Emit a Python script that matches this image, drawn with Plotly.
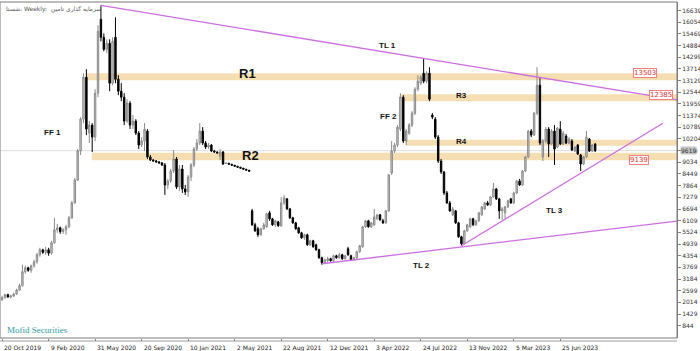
import plotly.graph_objects as go
import pandas as pd

# ---------------- data (weekly candles) ----------------
start_date = "2019-10-20"

opens = [
    2150, 2250, 2400, 2280, 2330, 2430, 2630, 2850, 3550, 3750,
    3620, 3850, 4050, 4400, 4650, 4520, 4650, 4480, 5000, 5650,
    5750, 5560, 5650, 5800, 6250, 7000, 8150, 9600, 11200, 13300,
    10500, 10900, 10300, 12500, 16200, 15300, 14700, 15000, 13000, 15300,
    13200, 12600, 12300, 11100, 12000, 10900, 11100, 10500, 9900, 10100,
    10600, 9300, 9150, 9100, 9050, 9000, 8900, 7900, 8100, 8600,
    9200, 7800, 8700, 7700, 7550, 8300, 8900, 9700, 10000, 10600,
    10000, 9800, 9900, 9600, 9550, 9350, 9550, 8990, 8990, 8940,
    8890, 8840, 8790, 8740, 8690, 8640, 6600, 5900, 5700, 5400,
    5700, 5800, 6500, 6200, 5900, 6050, 5850, 7000, 7200, 6700,
    6250, 6000, 5750, 5500, 5250, 5400, 4900, 5100, 4900, 4650,
    4250, 4000, 4100, 4200, 4100, 4350, 4250, 4400, 4200, 4700,
    4350, 4150, 4250, 4550, 4800, 5800, 6100, 5800, 5900, 6200,
    6400, 6100, 6000, 6600, 8500, 9600, 9900, 10700, 12300, 10100,
    10500, 10900, 11500, 12700, 13000, 13500, 13100, 13500, 11400, 11200,
    10300, 9100, 8550, 7500, 7000, 6400, 6600, 6000, 5300, 4950,
    5600, 5800, 6200, 5900, 6100, 6400, 6700, 7000, 6900, 7300,
    7700, 7200, 6600, 6500, 6800, 7200, 7000, 7500, 8100, 7900,
    8600, 9300, 10600, 10400, 11500, 12900, 9300, 10100, 10700, 9950,
    10600, 9800, 10700, 9950, 10350, 10000, 10100, 9600, 9900, 9400,
    8950, 9300, 10200, 9600, 9950,
]
highs = [
    2350, 2450, 2450, 2400, 2500, 2700, 2950, 3900, 3850, 3800,
    3900, 4150, 4500, 4750, 4700, 4800, 4750, 5100, 6250, 5950,
    5800, 5750, 5900, 6350, 7100, 8250, 9700, 11300, 13500, 13700,
    11100, 11000, 12700, 15900, 16900, 15500, 15200, 15200, 15300, 16300,
    13400, 13000, 12500, 12200, 12100, 11400, 11200, 10600, 10300, 11000,
    10700, 9400, 9200, 9150, 9100, 9050, 9000, 8200, 8700, 9650,
    9300, 8900, 8900, 7900, 8400, 9000, 9800, 10200, 11000, 10800,
    10100, 10000, 9950, 9650, 9580, 9700, 9600, 9010, 9000, 8950,
    8900, 8850, 8800, 8750, 8700, 8650, 6700, 6000, 5800, 5750,
    6000, 6500, 6600, 6250, 6150, 6100, 7300, 7400, 7250, 6750,
    6300, 6050, 5800, 5550, 5450, 5450, 5150, 5150, 4950, 4700,
    4300, 4200, 4300, 4250, 4400, 4400, 4500, 4450, 4400, 4800,
    4400, 4300, 4600, 4900, 5850, 6150, 6150, 6050, 6700, 6450,
    6450, 6200, 6650, 8450, 10100, 10000, 10900, 12500, 12400, 10700,
    11000, 11600, 12800, 13400, 13400, 14250, 13600, 13800, 11500, 11300,
    10400, 9200, 8600, 7600, 7100, 6800, 6650, 6050, 5350, 5650,
    5950, 6250, 6250, 6150, 6550, 6850, 7050, 7100, 7350, 8000,
    7750, 7250, 6800, 6850, 7150, 7250, 7550, 8150, 8200, 8650,
    9350, 10650, 10700, 11550, 13800, 13300, 10200, 10800, 10800, 10700,
    10900, 10800, 11100, 10600, 10450, 10300, 10200, 9850, 9950, 9450,
    9350, 10600, 10250, 9950, 10000,
]
lows = [
    2080, 2200, 2250, 2200, 2280, 2380, 2580, 2800, 3450, 3550,
    3500, 3750, 3950, 4300, 4450, 4400, 4350, 4400, 4950, 5500,
    5450, 5450, 5400, 5750, 6200, 6950, 8100, 9400, 11000, 10400,
    10000, 9550, 10100, 12300, 15100, 14600, 14500, 12600, 12900, 13000,
    12400, 12100, 10900, 11000, 10700, 10700, 10400, 9700, 9800, 9600,
    9200, 9100, 9080, 9030, 8980, 8850, 7400, 7700, 8000, 8500,
    7700, 7600, 7500, 7400, 7300, 8100, 8800, 9600, 9900, 9900,
    9700, 9700, 9550, 9520, 9480, 9150, 8900, 8970, 8930, 8880,
    8830, 8780, 8730, 8680, 8630, 8580, 5850, 5550, 5300, 5350,
    5650, 5750, 6100, 5850, 5800, 5800, 5800, 6900, 6650, 6200,
    5950, 5650, 5450, 5200, 5150, 4850, 4850, 4750, 4600, 4200,
    3900, 3950, 4000, 4050, 4050, 4200, 4200, 4150, 4150, 4350,
    4100, 4100, 4200, 4500, 4750, 5750, 5750, 5750, 5850, 6150,
    6100, 5950, 5950, 6550, 8400, 9500, 9800, 10600, 10000, 9900,
    10400, 10800, 11400, 12600, 12900, 13000, 13000, 12100, 11200, 10200,
    9000, 8450, 7400, 6950, 6550, 6350, 5950, 5250, 4850, 4900,
    5550, 5750, 5850, 5850, 6050, 6350, 6650, 6850, 6850, 7250,
    7150, 6200, 6150, 6200, 6750, 6950, 6950, 7450, 7850, 7850,
    8550, 9250, 10300, 10350, 11400, 9900, 9100, 10000, 9300, 9900,
    8900, 9750, 9900, 9900, 9950, 9950, 9600, 9550, 9400, 8600,
    8900, 9250, 9550, 9550, 9550,
]
closes = [
    2250, 2400, 2280, 2330, 2430, 2630, 2850, 3550, 3750, 3620,
    3850, 4050, 4400, 4650, 4520, 4650, 4480, 5000, 5650, 5750,
    5560, 5650, 5800, 6250, 7000, 8150, 9600, 11200, 13300, 10700,
    10900, 10300, 12500, 15600, 15300, 14700, 15000, 13000, 15100, 13200,
    12600, 12300, 11100, 12000, 10900, 11100, 10500, 9900, 10100, 10700,
    9300, 9150, 9100, 9050, 9000, 8900, 7900, 8100, 8600, 9200,
    7800, 8700, 7700, 7550, 8300, 8900, 9700, 10000, 10600, 10000,
    9800, 9900, 9600, 9550, 9500, 9550, 8950, 8990, 8940, 8890,
    8840, 8790, 8740, 8690, 8640, 8590, 5900, 5600, 5400, 5700,
    5900, 6450, 6200, 5900, 6100, 5850, 7000, 7250, 6700, 6250,
    6000, 5700, 5500, 5250, 5400, 4900, 5100, 4800, 4650, 4250,
    4000, 4150, 4200, 4100, 4350, 4250, 4400, 4200, 4350, 4400,
    4150, 4250, 4550, 4850, 5800, 6100, 5800, 6000, 6300, 6400,
    6150, 6000, 6600, 8400, 9600, 9900, 10800, 12300, 10100, 10600,
    10900, 11500, 12700, 13100, 13300, 13100, 13500, 12200, 11300, 10300,
    9100, 8550, 7500, 7000, 6600, 6700, 6000, 5300, 4950, 5600,
    5900, 6200, 5900, 6100, 6500, 6800, 7000, 6900, 7300, 7700,
    7200, 6600, 6700, 6800, 7100, 7000, 7500, 8100, 7900, 8600,
    9300, 10600, 10400, 11500, 12900, 10000, 10100, 10700, 9950, 10600,
    9700, 10750, 9950, 10500, 10000, 10200, 9650, 9800, 9450, 8950,
    9300, 10300, 9600, 9900, 9619,
]
assert len(opens) == len(highs) == len(lows) == len(closes), (len(opens), len(highs), len(lows), len(closes))

last_price = 9619

# horizontal zones
zone_names = ["R1", "R3", "R4", "R2"]
zone_low = [13150, 12100, 9870, 9139]
zone_high = [13503, 12450, 10170, 9520]
zone_start = ["2020-05-09", "2022-06-07", "2022-06-19", "2020-05-23"]

# price tags
tag_values = [13503, 12385, 9139]
tag_texts = ["13503", "12385", "9139"]

# trend lines (start date, start value, end date, end value)
tl_x0 = ["2020-06-14", "2021-11-28", "2022-10-30"]
tl_y0 = [16900, 3950, 4850]
tl_x1 = ["2024-04-01", "2024-04-01", "2024-02-27"]
tl_y1 = [12160, 6090, 10990]

# axis ticks
ytick_vals = [844 + 585 * k for k in range(28)]
ytick_text = [str(v) for v in ytick_vals]
xlabel_dates = ["2019-10-20", "2020-02-09", "2020-05-31", "2020-09-20", "2021-01-10",
                "2021-05-02", "2021-08-22", "2021-12-12", "2022-04-03", "2022-07-24",
                "2022-11-13", "2023-03-05", "2023-06-25"]
xlabel_texts = ["20 Oct 2019", "9 Feb 2020", "31 May 2020", "20 Sep 2020", "10 Jan 2021",
                "2 May 2021", "22 Aug 2021", "12 Dec 2021", "3 Apr 2022", "24 Jul 2022",
                "13 Nov 2022", "5 Mar 2023", "25 Jun 2023"]

x_start = "2019-10-15"
x_end = "2024-04-01"

# ---------------- figure ----------------
dates = pd.date_range(start_date, periods=len(closes), freq="7D")

W, H = 700, 351
ML, MR, MT, MB = 0, 23, 2, 13
PW, PH = W - ML - MR, H - MT - MB


def px(x):
    return (x - ML) / PW


def py(y):
    return (H - MB - y) / PH


fig = go.Figure()
fig.add_trace(go.Candlestick(
    x=dates, open=opens, high=highs, low=lows, close=closes,
    increasing=dict(line=dict(color="#8a8a8a", width=1), fillcolor="#cfcfcf"),
    decreasing=dict(line=dict(color="#000000", width=1), fillcolor="#000000"),
    whiskerwidth=0, hoverinfo="skip", showlegend=False,
))

shapes = []
# current price line
shapes.append(dict(type="line", xref="paper", x0=0, x1=1, yref="y", y0=last_price, y1=last_price,
                   line=dict(color="#dcdcdc", width=1), layer="below"))
for lo, hi, xs in zip(zone_low, zone_high, zone_start):
    shapes.append(dict(type="rect", xref="x", x0=xs, x1=x_end, yref="y", y0=lo, y1=hi,
                       fillcolor="rgba(244,214,160,0.8)", line=dict(width=0), layer="below"))
for a, b, c, d in zip(tl_x0, tl_y0, tl_x1, tl_y1):
    shapes.append(dict(type="line", xref="x", x0=a, x1=c, yref="y", y0=b, y1=d,
                       line=dict(color="#cc6fe0", width=1.3)))
# frame and bottom separator
shapes.append(dict(type="rect", xref="paper", x0=0, x1=1, yref="paper", y0=0, y1=1,
                   line=dict(color="#7a7a7a", width=1)))
shapes.append(dict(type="line", xref="paper", x0=0, x1=1, yref="paper", y0=py(341), y1=py(341),
                   line=dict(color="#9a9a9a", width=1)))

ann = []
# zone / line labels
labels = [("R1", 248, 73, 13), ("R2", 250, 155, 13), ("R3", 461, 95, 8), ("R4", 461, 141, 8),
          ("FF 1", 52, 132, 8), ("FF 2", 388, 116, 8), ("TL 1", 387, 45, 8),
          ("TL 2", 421, 265, 8), ("TL 3", 554, 210, 8)]
for t, x, y, s in labels:
    ann.append(dict(text="<b>%s</b>" % t, xref="paper", yref="paper", x=px(x), y=py(y),
                    xanchor="center", yanchor="middle",
                    showarrow=False, font=dict(family="Liberation Sans, Arial", size=s, color="#111111")))
# price tags
tag_right = [657, 673, 649]
for v, t, xr in zip(tag_values, tag_texts, tag_right):
    ann.append(dict(text=t, xref="paper", yref="y", x=px(xr), y=v, xanchor="right", showarrow=False,
                    font=dict(family="DejaVu Sans", size=7, color="#e03030"), bgcolor="white",
                    bordercolor="#f08080", borderwidth=1, borderpad=0))
# last price tag on the axis
ann.append(dict(text=str(last_price), xref="paper", yref="y", x=1, y=last_price, xanchor="left", xshift=3,
                showarrow=False, font=dict(family="DejaVu Sans", size=6, color="#333333"),
                bgcolor="#c4c4c4", borderpad=0))
# x labels
for d, t in zip(xlabel_dates, xlabel_texts):
    ann.append(dict(text=t, xref="x", yref="paper", x=d, y=py(342), xanchor="left", yanchor="top",
                    showarrow=False, font=dict(family="DejaVu Sans", size=6, color="#222222")))
# title and watermark
ann.append(dict(text="شستا، Weekly:  سرمایه گذاری تامین", xref="paper", yref="paper", x=px(4), y=py(3),
                xanchor="left", yanchor="top", showarrow=False,
                font=dict(family="DejaVu Sans", size=6, color="#555555")))
ann.append(dict(text="Mofid Securities", xref="paper", yref="paper", x=px(5), y=py(330),
                xanchor="left", yanchor="middle", showarrow=False,
                font=dict(family="Liberation Serif", size=9, color="#2f9aa3")))

fig.update_layout(
    width=W, height=H, margin=dict(l=ML, r=MR, t=MT, b=MB, autoexpand=False),
    paper_bgcolor="white", plot_bgcolor="white", showlegend=False,
    shapes=shapes, annotations=ann,
    xaxis=dict(type="date", range=[x_start, x_end], showgrid=False, showticklabels=False,
               rangeslider=dict(visible=False), ticks="outside", tickvals=xlabel_dates, ticklen=2,
               tickcolor="#808080", showline=False, zeroline=False, fixedrange=True,
               automargin=False),
    yaxis=dict(side="right", range=[227, 17071], tickvals=ytick_vals, ticktext=ytick_text,
               ticks="outside", ticklen=3,
               tickcolor="#808080", showgrid=False, showline=True, linecolor="#808080", linewidth=1,
               tickfont=dict(family="DejaVu Sans", size=6, color="#333333"), zeroline=False,
               fixedrange=True, automargin=False),
)

fig.write_html("out.html")
